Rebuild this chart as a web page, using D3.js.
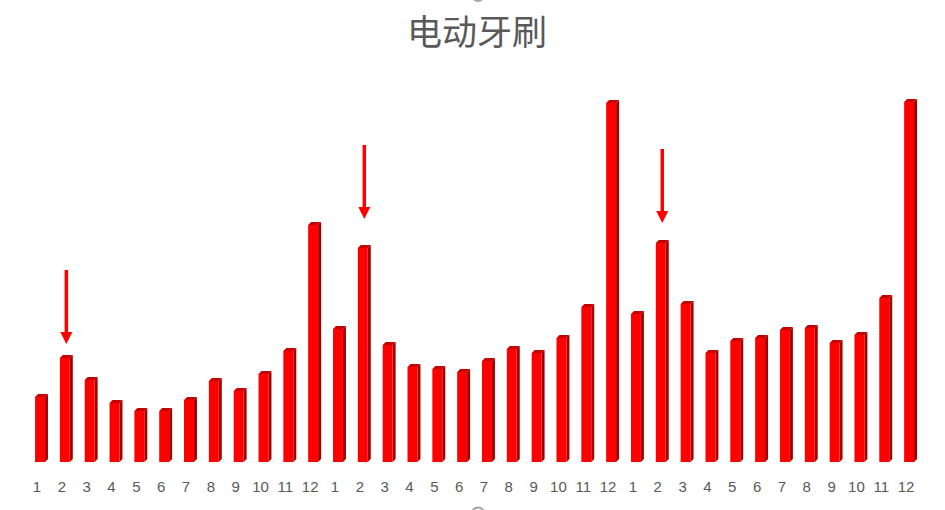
<!DOCTYPE html>
<html>
<head>
<meta charset="utf-8">
<script src="https://cdn.jsdelivr.net/npm/d3@7"></script>
<style>
  body { margin: 0; background: #fff; }
  svg { display: block; }
</style>
</head>
<body>
<svg width="945" height="510"></svg>
<script>
// 月份標籤 (三年, 每年12個月)
const months = [1,2,3,4,5,6,7,8,9,10,11,12, 1,2,3,4,5,6,7,8,9,10,11,12, 1,2,3,4,5,6,7,8,9,10,11,12];
const year1 = [65, 104, 82, 59, 51, 51, 62, 81, 71, 88, 111, 237];
const year2 = [133, 214, 117, 95, 93, 90, 101, 113, 109, 124, 155, 359];
const year3 = [148, 219, 158, 109, 121, 124, 132, 134, 119, 127, 164, 360];
const values = year1.concat(year2, year3);

// 箭頭: 指向每年2月
const arrows = [
  {idx: 1, from: 192, to: 118},
  {idx: 13, from: 317, to: 243},
  {idx: 25, from: 313, to: 239}
];

const svg = d3.select('svg');
const base = 462, depth = 3;

const x = d3.scaleBand()
  .domain(d3.range(values.length))
  .range([27.6, 921.5])
  .paddingInner(0.6)
  .paddingOuter(0.3);

const y = d3.scaleLinear().domain([0, 360]).range([base, 102]);
const bw = x.bandwidth();

// 標題
svg.append('text')
  .attr('x', 477).attr('y', 45)
  .attr('text-anchor', 'middle')
  .style('font-family', '"Noto Sans CJK SC", sans-serif')
  .style('font-size', '35px')
  .style('fill', '#595959')
  .text('电动牙刷');

const bars = svg.append('g').selectAll('g')
  .data(values)
  .join('g');

// 側面
bars.append('polygon')
  .attr('points', (d,i) => {
    const x0 = x(i) + bw, yt = y(d);
    return [[x0, yt], [x0+depth, yt-depth], [x0+depth, base-depth], [x0, base]].join(' ');
  })
  .style('fill', '#a50000');

// 頂面
bars.append('polygon')
  .attr('points', (d,i) => {
    const x0 = x(i), yt = y(d);
    return [[x0, yt], [x0+depth, yt-depth], [x0+bw+depth, yt-depth], [x0+bw, yt]].join(' ');
  })
  .style('fill', '#c40000');

// 正面
bars.append('rect')
  .attr('x', (d,i) => x(i))
  .attr('y', d => y(d))
  .attr('width', bw)
  .attr('height', d => base - y(d))
  .style('fill', '#ff0000');

// x 軸標籤
svg.append('g').selectAll('text')
  .data(months)
  .join('text')
  .attr('x', (d,i) => x(i) + bw/2 - 3)
  .attr('y', 492)
  .attr('text-anchor', 'middle')
  .style('font-family', '"Liberation Sans", Arial, sans-serif')
  .style('font-size', '15px')
  .style('fill', '#595959')
  .text(d => d);

// 箭頭
const ag = svg.append('g').selectAll('g')
  .data(arrows)
  .join('g');

ag.append('line')
  .attr('x1', d => x(d.idx) + bw/2 + 1.5)
  .attr('x2', d => x(d.idx) + bw/2 + 1.5)
  .attr('y1', d => y(d.from))
  .attr('y2', d => y(d.to) - 10)
  .style('stroke', '#ff0000')
  .style('stroke-width', 3.5);

ag.append('polygon')
  .attr('points', d => {
    const cx = x(d.idx) + bw/2 + 1.5, tip = y(d.to);
    return [[cx-6, tip-12], [cx+6, tip-12], [cx, tip]].join(' ');
  })
  .style('fill', '#ff0000');

// 選取控點 (上下)
svg.append('circle')
  .attr('cx', 478).attr('cy', -5).attr('r', 7)
  .style('fill', '#a6a6a6');
svg.append('circle')
  .attr('cx', 478).attr('cy', 514).attr('r', 6.5)
  .style('fill', '#fff')
  .style('stroke', '#a6a6a6')
  .style('stroke-width', 2);
</script>
</body>
</html>
